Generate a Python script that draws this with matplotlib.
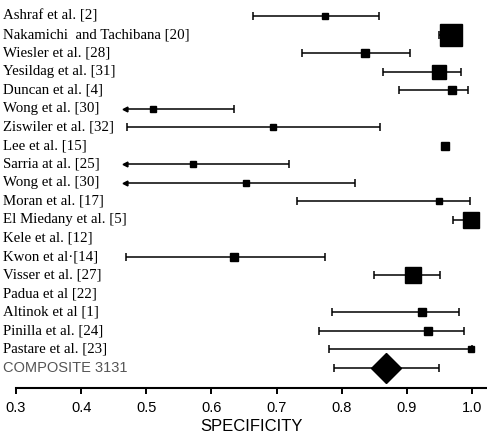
import matplotlib.pyplot as plt
import matplotlib.transforms as mtransforms
import numpy as np

# ── data ─────────────────────────────────────────────────────────────
studies = [
    "Ashraf et al. [2]", "Nakamichi  and Tachibana [20]", "Wiesler et al. [28]",
    "Yesildag et al. [31]", "Duncan et al. [4]", "Wong et al. [30]",
    "Ziswiler et al. [32]", "Lee et al. [15]", "Sarria at al. [25]",
    "Wong et al. [30]", "Moran et al. [17]", "El Miedany et al. [5]",
    "Kele et al. [12]", "Kwon et al\u00b7[14]", "Visser et al. [27]",
    "Padua et al [22]", "Altinok et al [1]", "Pinilla et al. [24]",
    "Pastare et al. [23]",
]
spec = [0.774, 0.968, 0.836, 0.949, 0.969, 0.510, 0.695, 0.959, 0.572, 0.653,
        0.949, 0.999, np.nan, 0.635, 0.909, np.nan, 0.923, 0.932, 0.999]
ci_lo = [0.664, 0.949, 0.739, 0.863, 0.888, 0.467, 0.470, 0.955, 0.467, 0.467,
         0.731, 0.971, np.nan, 0.469, 0.850, np.nan, 0.785, 0.765, 0.781]
ci_hi = [0.857, 0.985, 0.905, 0.983, 0.994, 0.635, 0.859, 0.963, 0.719, 0.820,
         0.997, 1.000, np.nan, 0.774, 0.951, np.nan, 0.980, 0.988, 1.000]
truncated = [False, False, False, False, False, True, False, False, True, True,
             False, False, False, False, False, False, False, False, False]
weight = [5, 16, 6, 9.5, 5.5, 5, 5, 5.5, 5, 5, 5, 12, 0, 5.5, 11, 0, 5.5, 6, 5]

pooled_label = "COMPOSITE 3131"
pooled = 0.868
pooled_lo, pooled_hi = 0.788, 0.949

ticks = [0.3, 0.4, 0.5, 0.6, 0.7, 0.8, 0.9, 1.0]

# ── plot ─────────────────────────────────────────────────────────────
fig = plt.figure(figsize=(4.87, 4.40), dpi=100)
ax = fig.add_axes([16 / 487, 1 - 388 / 440, 1 - 16 / 487, 388 / 440])

n = len(studies)
rows = np.arange(n)
lw = 1.1
for i in rows:
    if np.isnan(spec[i]):
        continue
    ax.hlines(i, ci_lo[i], ci_hi[i], color="black", lw=lw)
    ax.plot(ci_hi[i], i, marker="|", ms=6, mew=lw, color="black")
    if truncated[i]:
        ax.plot(ci_lo[i], i, marker="<", ms=3.5, color="black")
    else:
        ax.plot(ci_lo[i], i, marker="|", ms=6, mew=lw, color="black")
    ax.plot(spec[i], i, marker="s", ms=weight[i], color="black", zorder=3)

# pooled estimate
ax.hlines(n, pooled_lo, pooled_hi, color="black", lw=lw)
ax.plot([pooled_lo, pooled_hi], [n, n], ls="none", marker="|", ms=6, mew=lw,
        color="black")
ax.plot(pooled, n, marker="D", ms=15, color="black", zorder=3)

# row labels
trans = mtransforms.blended_transform_factory(fig.transFigure, ax.transData)
for i, name in enumerate(studies):
    ax.text(3 / 487, i, name, transform=trans, ha="left", va="center",
            fontsize=10.7, family="Liberation Serif", clip_on=False)
ax.text(3 / 487, n, pooled_label, transform=trans, ha="left", va="center",
        fontsize=10.5, family="Liberation Sans", color="#555555", clip_on=False)

ax.set_xlim(0.3, 1.023)
ax.set_ylim(20.08, -0.863)
ax.set_xticks(ticks)
ax.set_xticklabels([f"{t:.1f}" for t in ticks], family="Liberation Sans",
                   fontsize=10.5)
ax.tick_params(axis="x", direction="out", length=4.5, width=1.4, pad=5)
ax.set_yticks([])
ax.set_xlabel("SPECIFICITY", family="Liberation Sans", fontsize=12, labelpad=3)

for s in ["top", "right", "left"]:
    ax.spines[s].set_visible(False)
ax.spines["bottom"].set_linewidth(1.5)
ax.patch.set_visible(False)

fig.savefig("out.png", dpi=100, facecolor="white")
plt.close()
